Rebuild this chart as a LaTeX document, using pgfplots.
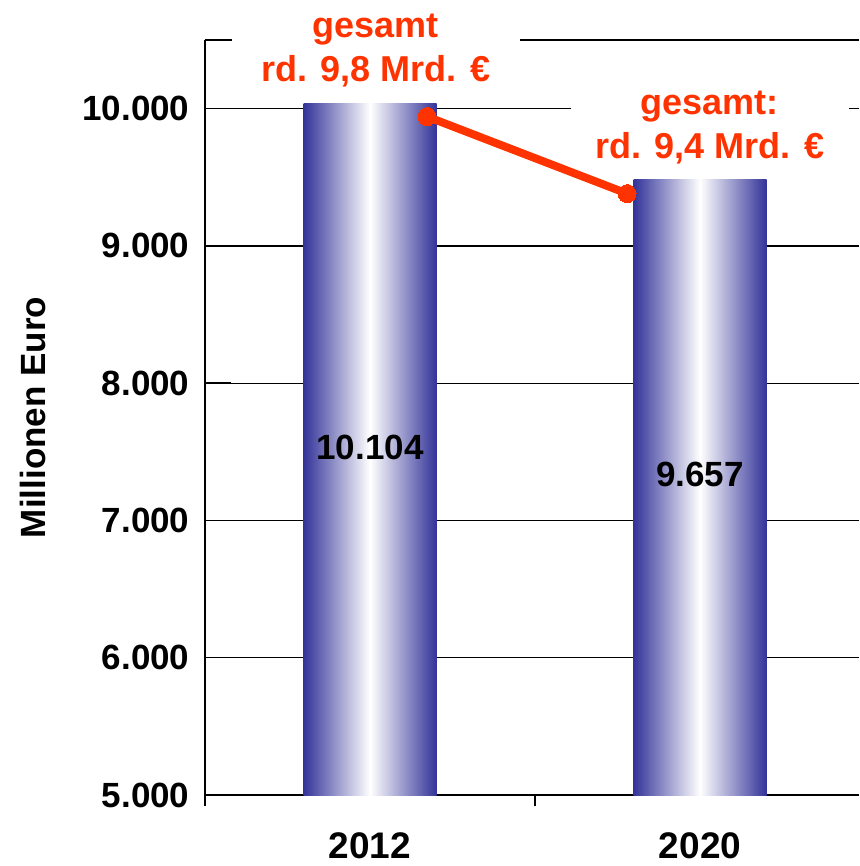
\documentclass[border=0pt]{standalone}
\usepackage{pgfplots}
\pgfplotsset{compat=1.18}
\usepackage{fontspec}
\setmainfont{Liberation Sans}
\definecolor{barblue}{RGB}{51,51,153}
\definecolor{redline}{RGB}{255,51,0}
\begin{document}
\begin{tikzpicture}
\begin{axis}[
  scale only axis, width=654pt, height=755pt,
  xmin=-0.5, xmax=1.4818, ymin=5000, ymax=10500,
  scaled y ticks=false,
  /pgf/number format/assume math mode=true,
  axis x line*=bottom, axis y line*=left,
  axis line style={black, line width=1.5pt},
  every tick/.style={black, line width=1.5pt},
  ytick={5000,6000,7000,8000,9000,10000},
  yticklabels={5.000,6.000,7.000,8.000,9.000,10.000},
  ymajorgrids,
  major grid style={black, line width=1.3pt},
  ytick style={/pgfplots/major tick length=26pt},
  yticklabel style={font=\fontsize{35}{42}\selectfont\bfseries, xshift=-12pt},
  extra y ticks={10500}, extra y tick labels={},
  extra y tick style={grid=major, tick style={draw=none}},
  xtick={-0.5,0.5,1.5}, xticklabels={},
  xtick align=outside,
  xtick style={/pgfplots/major tick length=11pt},
  extra x ticks={0,1}, extra x tick labels={2012,2020},
  extra x tick style={grid=none, tick style={draw=none},
     tick label style={font=\fontsize{37}{44}\selectfont\bfseries, yshift=-30pt}},
]
\addplot[ybar, bar width=133pt, draw=none, left color=barblue, right color=barblue, middle color=white]
  coordinates {(0,10034)};
\addplot[ybar, bar width=133pt, draw=none, left color=barblue, right color=barblue, middle color=white]
  coordinates {(1,9483)};
\addplot[redline, line width=8pt, mark=*, mark size=9pt, mark options={fill=redline, draw=redline, line width=0pt}]
  coordinates {(0.173,9942) (0.779,9381)};
\coordinate (SW) at (rel axis cs:0,0);
\coordinate (NE) at (rel axis cs:1,1);
\coordinate (L1) at (axis cs:0.018,10420);
\coordinate (L2) at (axis cs:1.03,9860);
\coordinate (V1) at (axis cs:0,7533);
\coordinate (V2) at (axis cs:1,7336);
\coordinate (YL) at (rel axis cs:0,0.5);
\end{axis}
\node[fill=white, text=redline, align=center, inner xsep=30pt, inner ysep=3pt,
      font=\fontsize{36}{44}\selectfont\bfseries] at (L1) {gesamt\\rd. 9,8 Mrd. €};
\node[fill=white, text=redline, align=center, inner xsep=25pt, inner ysep=3pt,
      font=\fontsize{36}{44}\selectfont\bfseries] at (L2) {gesamt:\\rd. 9,4 Mrd. €};
\node[font=\fontsize{35}{42}\selectfont\bfseries] at (V1) {10.104};
\node[font=\fontsize{35}{42}\selectfont\bfseries] at (V2) {9.657};
\node[rotate=90, font=\fontsize{35}{42}\selectfont\bfseries] at ([xshift=-172pt]YL) {Millionen Euro};
\pgfresetboundingbox
\path[use as bounding box] ([shift={(-205pt,-71pt)}]SW) rectangle ([shift={(0pt,40pt)}]NE);
\end{tikzpicture}
\end{document}
